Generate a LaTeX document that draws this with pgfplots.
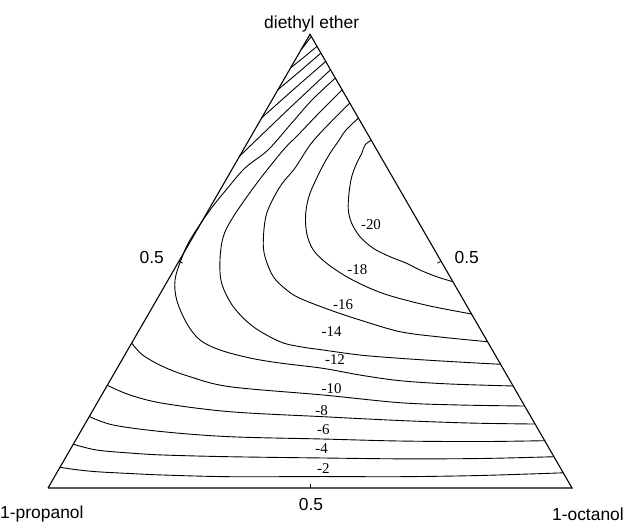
\documentclass[border=0pt]{standalone}
\usepackage{pgfplots}
\pgfplotsset{compat=1.18}
\usepackage{fontspec}
\setmainfont{Liberation Sans}
\newfontfamily\labelfont{Liberation Serif}

% Ternary diagram drawn in Cartesian coordinates:
% 1-propanol (0,0), 1-octanol (1,0), diethyl ether (0.5,0.866)
\tikzset{
  cline/.style={black, line width=0.9bp, smooth, tension=0.55},
  clabel/.style={font=\labelfont\fontsize{15}{16}\selectfont, inner sep=0pt},
  vlabel/.style={font=\fontsize{17.5}{20}\selectfont, inner sep=0pt},
}
\begin{document}
\begin{tikzpicture}
\begin{axis}[
  scale only axis, x=524bp, y=524bp,
  xmin=-0.0916, xmax=1.0992, ymin=-0.0763, ymax=0.9313,
  hide axis, clip=false, every axis plot/.append style={no marks},
]
\coordinate (bbsw) at (rel axis cs:0,0);
\coordinate (bbne) at (rel axis cs:1,1);

% frame of the triangle
\addplot[black, line width=1.1bp, line join=miter]
  coordinates {(0,0) (1,0) (0.5,0.8660) (0,0)};
% ticks at the mid-points of the sides
\addplot[black, line width=0.8bp] coordinates {(0.5,0) (0.5,0.008)};
\addplot[black, line width=0.8bp] coordinates {(0.25,0.4330) (0.2569,0.4290)};
\addplot[black, line width=0.8bp] coordinates {(0.75,0.4330) (0.7431,0.4290)};

% -2
\addplot[cline] coordinates {(0.0229,0.0397) (0.0515,0.0353) (0.0929,0.0311) (0.1565,0.0277)
  (0.2200,0.0248) (0.3473,0.0216) (0.5248,0.0219) (0.6718,0.0216) (0.8244,0.0239) (0.9833,0.0290)};
\addplot[cline] coordinates {(0.4828,0.8362) (0.4924,0.8483) (0.5025,0.8617)};
% -4
\addplot[cline] coordinates {(0.0483,0.0836) (0.0929,0.0725) (0.1565,0.0668) (0.2200,0.0630)
  (0.3473,0.0597) (0.5248,0.0573) (0.6718,0.0557) (0.8244,0.0563) (0.9655,0.0597)};
\addplot[cline] coordinates {(0.4626,0.8015) (0.4876,0.8215) (0.5135,0.8429)};
% -6
\addplot[cline] coordinates {(0.0788,0.1365) (0.1246,0.1202) (0.2200,0.1074) (0.3473,0.0979)
  (0.5248,0.0935) (0.6718,0.0897) (0.8244,0.0887) (0.9479,0.0903)};
\addplot[cline] coordinates {(0.4387,0.7601) (0.4800,0.7948) (0.5210,0.8302)};
% -8
\addplot[cline] coordinates {(0.1132,0.1960) (0.1565,0.1775) (0.2200,0.1616) (0.3473,0.1456)
  (0.5248,0.1361) (0.6718,0.1288) (0.8053,0.1240) (0.9295,0.1221)};
\addplot[cline] coordinates {(0.4074,0.7061) (0.4685,0.7605) (0.5302,0.8143)};
% -10
\addplot[cline] coordinates {(0.1597,0.2766) (0.1807,0.2538) (0.2200,0.2315) (0.2710,0.2124)
  (0.3473,0.1933) (0.5248,0.1775) (0.6718,0.1628) (0.7863,0.1584) (0.9096,0.1565)};
\addplot[cline] coordinates {(0.3653,0.6330) (0.4523,0.7166) (0.5393,0.7983)};
% -12
\addplot[cline] coordinates {(0.5485,0.7824) (0.5038,0.7405) (0.4618,0.6927) (0.4198,0.6450)
  (0.3760,0.6107) (0.3397,0.5687) (0.3092,0.5305) (0.2710,0.4733) (0.2538,0.4351)
  (0.2424,0.3969) (0.2456,0.3588) (0.2647,0.3143) (0.2901,0.2824) (0.3282,0.2634)
  (0.3855,0.2481) (0.4427,0.2385) (0.5248,0.2284) (0.5954,0.2156) (0.6718,0.2048)
  (0.7672,0.1985) (0.8876,0.1947)};
% -14
\addplot[cline] coordinates {(0.5615,0.7601) (0.5191,0.7176) (0.4771,0.6737) (0.4490,0.6450)
  (0.3983,0.5815) (0.3536,0.5177) (0.3345,0.4796) (0.3282,0.4351) (0.3315,0.3906)
  (0.3536,0.3460) (0.3918,0.3078) (0.4427,0.2792) (0.4809,0.2697) (0.5248,0.2634)
  (0.5954,0.2538) (0.6718,0.2475) (0.7672,0.2414) (0.8637,0.2361)};
% -16
\addplot[cline] coordinates {(0.5760,0.7347) (0.5286,0.6870) (0.5000,0.6546) (0.4714,0.6107)
  (0.4427,0.5750) (0.4174,0.5242) (0.4109,0.4733) (0.4141,0.4414) (0.4300,0.4032)
  (0.4555,0.3779) (0.4809,0.3620) (0.5382,0.3397) (0.5954,0.3206) (0.6718,0.2983)
  (0.7481,0.2882) (0.8388,0.2792)};
% -18
\addplot[cline] coordinates {(0.5926,0.7061) (0.5687,0.6832) (0.5540,0.6616) (0.5382,0.6387)
  (0.5223,0.6107) (0.5000,0.5624) (0.4918,0.5242) (0.4937,0.4861) (0.5063,0.4542)
  (0.5319,0.4288) (0.5700,0.4032) (0.6145,0.3811) (0.6590,0.3651) (0.7290,0.3473)
  (0.8083,0.3321)};
% -20
\addplot[cline] coordinates {(0.6168,0.6637) (0.6050,0.6546) (0.5987,0.6387) (0.5891,0.6197)
  (0.5796,0.5941) (0.5744,0.5624) (0.5731,0.5305) (0.5796,0.5052) (0.5954,0.4796)
  (0.6208,0.4574) (0.6527,0.4414) (0.6845,0.4288) (0.7099,0.4160) (0.7418,0.4032)
  (0.7727,0.3937)};

% contour values
\node[clabel] at (axis cs:0.5254,0.0376) {-2};
\node[clabel] at (axis cs:0.5223,0.0744) {-4};
\node[clabel] at (axis cs:0.5254,0.1107) {-6};
\node[clabel] at (axis cs:0.5223,0.1475) {-8};
\node[clabel] at (axis cs:0.5414,0.1903) {-10};
\node[clabel] at (axis cs:0.5477,0.2456) {-12};
\node[clabel] at (axis cs:0.5414,0.2983) {-14};
\node[clabel] at (axis cs:0.5630,0.3492) {-16};
\node[clabel] at (axis cs:0.5903,0.4173) {-18};
\node[clabel] at (axis cs:0.6164,0.5019) {-20};

% component names and mid-point values
\node[vlabel] at (axis cs:0.5032,0.8859) {diethyl ether};
\node[vlabel, anchor=west] at (axis cs:-0.0916,-0.0496) {1-propanol};
\node[vlabel, anchor=east] at (axis cs:1.0992,-0.0496) {1-octanol};
\node[vlabel] at (axis cs:0.5019,-0.0305) {0.5};
\node[vlabel] at (axis cs:0.1979,0.4408) {0.5};
\node[vlabel] at (axis cs:0.7990,0.4399) {0.5};
\end{axis}
\pgfresetboundingbox
\useasboundingbox (bbsw) rectangle (bbne);
\end{tikzpicture}
\end{document}
